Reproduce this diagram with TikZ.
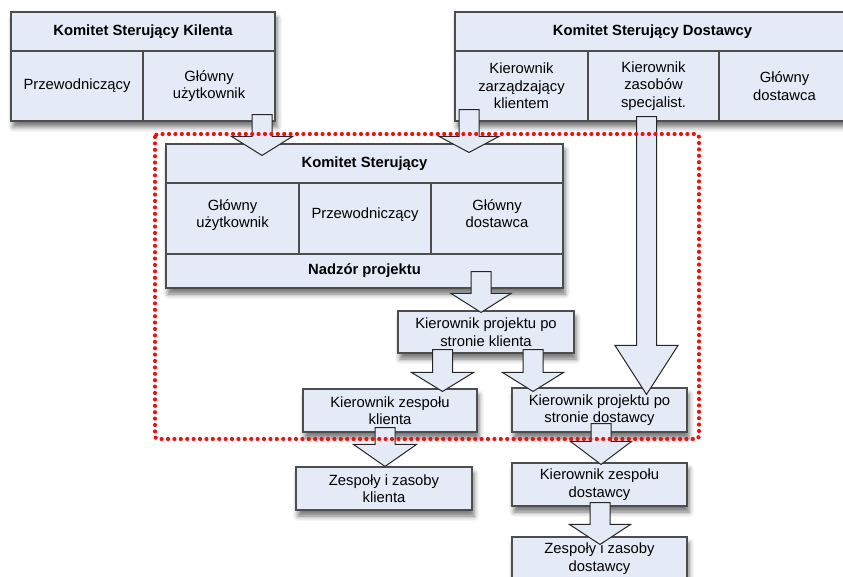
\documentclass[tikz,border=0pt]{standalone}
\usepackage{fontspec}
\setmainfont{Liberation Sans}
\usetikzlibrary{calc,shadows.blur}
\definecolor{boxfill}{HTML}{E5EBF6}
\definecolor{boxline}{HTML}{4D4D4D}
\definecolor{framered}{HTML}{EE1111}
\tikzset{
  frame/.style={draw=boxline, line width=1.1pt, fill=boxfill, rectangle, inner sep=0pt,
    blur shadow={shadow xshift=2pt, shadow yshift=-6pt, shadow blur radius=5pt, shadow opacity=55}},
  cell/.style={draw=boxline, line width=1.1pt, fill=boxfill, rectangle, inner sep=0pt,
    align=center, font=\fontsize{14.8}{17.5}\selectfont},
  head/.style={cell, font=\fontsize{14.8}{17.5}\selectfont\bfseries},
  arrowbox/.style={draw=black!85, line width=1pt, fill=boxfill, line join=miter},
  teamframe/.style={draw=framered, line width=4.2pt, line cap=round,
    dash pattern=on 0pt off 6.4pt, rounded corners=3pt},
}
% block arrow: #1 source node, #2 target node, #3 axis x, #4 overlap into source,
% #5 tip depth into target, #6 head length, #7 head half width
\newcommand\blockarr[7]{%
  \draw[arrowbox] let \p1=(#1.south), \p2=(#2.north) in
    ({#3pt-10pt},{\y1+#4pt}) -- ({#3pt-10pt},{\y2-#5pt+#6pt})
    -- ({#3pt-#7pt},{\y2-#5pt+#6pt}) -- ({#3pt},{\y2-#5pt})
    -- ({#3pt+#7pt},{\y2-#5pt+#6pt}) -- ({#3pt+10pt},{\y2-#5pt+#6pt})
    -- ({#3pt+10pt},{\y1+#4pt}) -- cycle;}
\begin{document}
\begin{tikzpicture}[x=1pt, y=-1pt]
  \useasboundingbox (0,0) rectangle (843,577);
  \clip (0,0) rectangle (843,577);

  % client steering committee
  \node[frame, minimum width=264pt, minimum height=109pt] (A) at (143,66.5) {};
  \node[head, minimum width=264pt, minimum height=39pt] (Ah) at (143,31.5) {Komitet Sterujący Kilenta};
  \node[cell, minimum width=132pt, minimum height=70pt] (A1) at (77,86) {Przewodniczący};
  \node[cell, minimum width=132pt, minimum height=70pt] (A2) at (209,86) {Główny\\użytkownik};

  % supplier steering committee
  \node[frame, minimum width=395pt, minimum height=109pt] (B) at (652.5,66.5) {};
  \node[head, minimum width=395pt, minimum height=39pt] (Bh) at (652.5,31.5) {Komitet Sterujący Dostawcy};
  \node[cell, minimum width=133pt, minimum height=70pt] (B1) at (521.5,86) {Kierownik\\zarządzający\\klientem};
  \node[cell, minimum width=131pt, minimum height=70pt] (B2) at (653.5,86) {Kierownik\\zasobów\\specjalist.};
  \node[cell, minimum width=131pt, minimum height=70pt] (B3) at (784.5,86) {Główny\\dostawca};

  % project steering committee
  \node[frame, minimum width=397pt, minimum height=144pt] (C) at (364.5,216) {};
  \node[head, minimum width=397pt, minimum height=39pt] (Ch) at (364.5,163.5) {Komitet Sterujący};
  \node[cell, minimum width=133pt, minimum height=71pt] (C1) at (232.5,218.5) {Główny\\użytkownik\\[-7.5pt]};
  \node[cell, minimum width=132pt, minimum height=71pt] (C2) at (365,218.5) {Przewodniczący\\[-7.5pt]};
  \node[cell, minimum width=132pt, minimum height=71pt] (C3) at (497,218.5) {Główny\\dostawca\\[-7.5pt]};
  \node[head, minimum width=397pt, minimum height=34pt] (Cf) at (364.5,271) {Nadzór projektu};

  % managers and teams
  \node[cell, frame, minimum width=176pt, minimum height=42pt] (D) at (486,332) {Kierownik projektu po\\stronie klienta};
  \node[cell, frame, minimum width=174pt, minimum height=43pt] (E) at (390,410.5) {Kierownik zespołu\\klienta};
  \node[cell, frame, minimum width=175pt, minimum height=44pt] (F) at (599.5,410) {Kierownik projektu po\\stronie dostawcy};
  \node[cell, frame, minimum width=176pt, minimum height=43pt] (G) at (384,488.5) {Zespoły i zasoby\\klienta};
  \node[cell, frame, minimum width=175pt, minimum height=43pt] (H) at (599.5,484.5) {Kierownik zespołu\\dostawcy};
  \node[cell, frame, minimum width=175pt, minimum height=43pt] (I) at (599.5,558.5) {Zespoły i zasoby\\dostawcy};

  % block arrows
  \blockarr{A2}{C}{262}{7}{12}{19}{30.5}
  \blockarr{B1}{C}{469}{12}{9}{16}{30}
  \blockarr{B2}{F}{646.5}{5}{7}{49}{31.5}
  \blockarr{C}{D}{481}{17}{2}{19}{30}
  \blockarr{D}{E}{442.5}{4}{3}{19}{31}
  \blockarr{D}{F}{533}{4}{4}{19}{30.5}
  \blockarr{E}{G}{385}{5}{0}{22}{31.5}
  \blockarr{F}{H}{601}{9}{2}{23}{30.5}
  \blockarr{H}{I}{600}{4}{8}{20}{30.5}

  % project management team boundary
  \draw[teamframe] (155,134) rectangle (699,439);
\end{tikzpicture}
\end{document}
